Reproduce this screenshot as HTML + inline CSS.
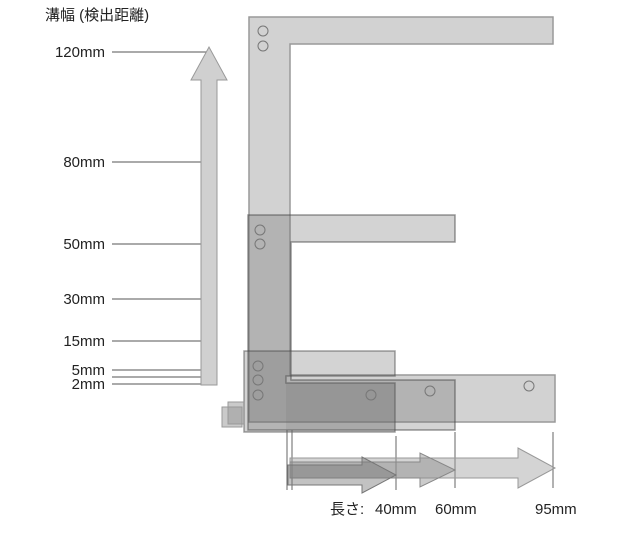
<!DOCTYPE html>
<html><head><meta charset="utf-8"><style>
html,body{margin:0;padding:0;background:#fff;}
svg{display:block;}
text{font-family:"Liberation Sans","Noto Sans CJK JP",sans-serif;font-size:15px;fill:#222;}
</style></head><body>
<svg width="640" height="534" viewBox="0 0 640 534" xmlns="http://www.w3.org/2000/svg">
<text x="45" y="20" font-size="14">溝幅 (検出距離)</text>
<g text-anchor="end">
<text x="105" y="57">120mm</text>
<text x="105" y="167">80mm</text>
<text x="105" y="249">50mm</text>
<text x="105" y="304">30mm</text>
<text x="105" y="346">15mm</text>
<text x="105" y="375">5mm</text>
<text x="105" y="389">2mm</text>
</g>
<g stroke="#555" stroke-width="1">
<line x1="112" y1="52" x2="206" y2="52"/>
<line x1="112" y1="162" x2="206" y2="162"/>
<line x1="112" y1="244" x2="206" y2="244"/>
<line x1="112" y1="299" x2="206" y2="299"/>
<line x1="112" y1="341" x2="206" y2="341"/>
<line x1="112" y1="370" x2="206" y2="370"/>
<line x1="112" y1="377" x2="206" y2="377"/>
<line x1="112" y1="384" x2="206" y2="384"/>
</g>
<polygon points="201,385 201,80 191,80 209,47 227,80 217,80 217,385" fill="#d0d0d0" stroke="#999"/>
<polygon points="249,17 553,17 553,44 290,44 290,375 555,375 555,422 249,422" fill="#d2d2d2" stroke="#999" stroke-width="1.5"/>
<polygon points="248,215 455,215 455,242 291,242 291,380 455,380 455,430 248,430" fill="rgba(110,110,110,0.3)" stroke="rgba(70,70,70,0.55)" stroke-width="1.5"/>
<polygon points="244,351 395,351 395,376 286,376 286,383 395,383 395,432 244,432" fill="rgba(110,110,110,0.3)" stroke="rgba(70,70,70,0.5)" stroke-width="1.5"/>
<rect x="286" y="383" width="109" height="49" fill="rgba(110,110,110,0.15)"/>
<g fill="none" stroke="#777">
<circle cx="263" cy="31" r="5"/><circle cx="263" cy="46" r="5"/>
<circle cx="260" cy="230" r="5"/><circle cx="260" cy="244" r="5"/>
<circle cx="258" cy="366" r="5"/><circle cx="258" cy="380" r="5"/><circle cx="258" cy="395" r="5"/>
<circle cx="371" cy="395" r="5"/><circle cx="430" cy="391" r="5"/><circle cx="529" cy="386" r="5"/>
</g>
<g fill="rgba(150,150,150,0.5)" stroke="#999">
<rect x="222" y="407" width="20" height="20"/><rect x="228" y="402" width="16" height="22"/>
</g>
<g stroke="#666">
<line x1="287" y1="430" x2="287" y2="490"/><line x1="292" y1="430" x2="292" y2="490"/>
<line x1="396" y1="436" x2="396" y2="490"/><line x1="455" y1="432" x2="455" y2="488"/><line x1="553" y1="432" x2="553" y2="488"/>
</g>
<polygon points="290,458 518,458 518,448 555,468 518,488 518,478 290,478" fill="rgba(160,160,160,0.45)" stroke="#999"/>
<polygon points="290,462 420,462 420,453 455,470 420,487 420,478 290,478" fill="rgba(140,140,140,0.45)" stroke="#888"/>
<polygon points="288,465 362,465 362,457 396,475 362,493 362,485 288,485" fill="rgba(120,120,120,0.45)" stroke="#777"/>
<text x="330" y="514">長さ:</text>
<text x="375" y="514">40mm</text>
<text x="435" y="514">60mm</text>
<text x="535" y="514">95mm</text>
</svg>
</body></html>
